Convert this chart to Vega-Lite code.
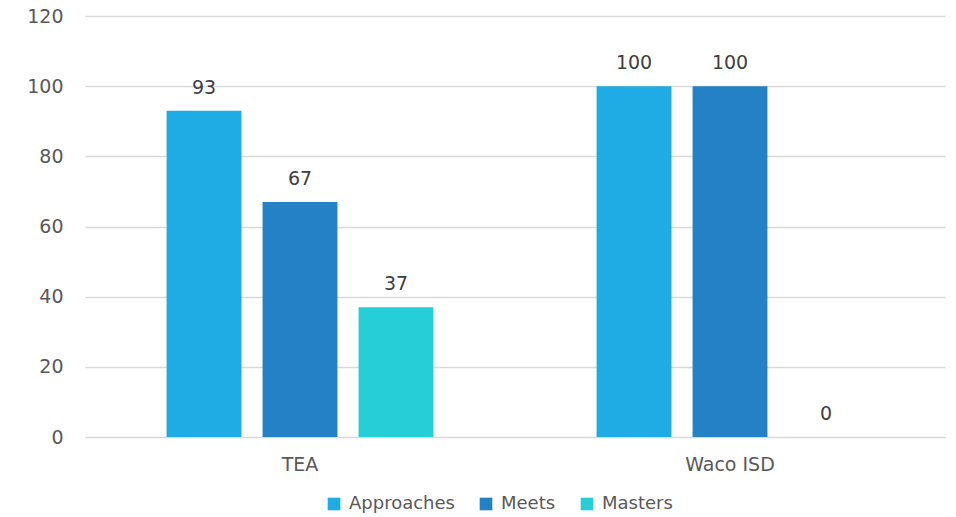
{
  "$schema": "https://vega.github.io/schema/vega-lite/v6.json",
  "width": 860,
  "height": 421,
  "autosize": {"type": "none"},
  "padding": {"left": 85, "top": 16, "right": 11, "bottom": 80},
  "background": "white",
  "config": {
    "view": {"stroke": null},
    "font": "DejaVu Sans",
    "axis": {"labelFont": "DejaVu Sans", "labelFontSize": 19, "labelColor": "#595959"},
    "legend": {"labelFont": "DejaVu Sans", "labelFontSize": 18, "labelColor": "#595959"}
  },
  "data": {
    "values": [
      {"group": "TEA", "level": "Approaches", "value": 93},
      {"group": "TEA", "level": "Meets", "value": 67},
      {"group": "TEA", "level": "Masters", "value": 37},
      {"group": "Waco ISD", "level": "Approaches", "value": 100},
      {"group": "Waco ISD", "level": "Meets", "value": 100},
      {"group": "Waco ISD", "level": "Masters", "value": 0}
    ]
  },
  "encoding": {
    "x": {
      "field": "group", "type": "nominal",
      "scale": {"paddingInner": 0, "paddingOuter": 0},
      "axis": {"title": null, "labelAngle": 0, "ticks": false, "domain": true, "domainColor": "#d9d9d9", "labelPadding": 18}
    },
    "xOffset": {
      "field": "level", "type": "nominal",
      "scale": {"domain": ["Approaches", "Meets", "Masters"], "paddingInner": 0.22, "paddingOuter": 0.85}
    },
    "y": {
      "field": "value", "type": "quantitative",
      "scale": {"domain": [0, 120]},
      "axis": {"title": null, "values": [0, 20, 40, 60, 80, 100, 120], "domain": false, "ticks": false, "labelPadding": 22, "gridColor": "#d9d9d9", "gridWidth": 1.3}
    }
  },
  "layer": [
    {
      "mark": {"type": "bar"},
      "encoding": {
        "color": {
          "field": "level", "type": "nominal",
          "scale": {"domain": ["Approaches", "Meets", "Masters"], "range": ["#1FABE3", "#2481C6", "#26CFD8"]},
          "legend": {"title": null, "orient": "none", "direction": "horizontal", "legendX": 240, "legendY": 479, "symbolType": "square", "symbolSize": 160, "symbolStrokeWidth": 0, "columnPadding": 22, "labelOffset": 6}
        }
      }
    },
    {
      "mark": {"type": "text", "dy": -17, "baseline": "alphabetic", "fontSize": 19, "color": "#404040", "font": "DejaVu Sans"},
      "encoding": {"text": {"field": "value", "type": "quantitative"}}
    }
  ]
}
